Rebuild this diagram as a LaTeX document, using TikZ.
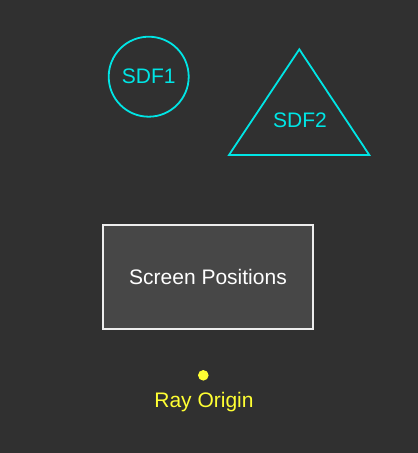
\documentclass[tikz,border=0pt]{standalone}
\usepackage{fontspec}
\setmainfont{Liberation Sans}
\definecolor{bgdark}{HTML}{303030}
\definecolor{boxgray}{HTML}{474747}
\definecolor{sdfcyan}{HTML}{00E5E5}
\definecolor{rayyellow}{HTML}{FFFF33}
\begin{document}
\begin{tikzpicture}[x=1pt,y=-1pt,font=\fontsize{21}{24}\selectfont,
		sdf/.style={draw=sdfcyan, line width=1.8pt, text=sdfcyan, inner sep=0pt}]
			% 背景
			\fill[bgdark] (0,0) rectangle (418,453);
			\useasboundingbox (0,0) rectangle (418,453);
			% 画 SDF1
			\node[sdf, circle, minimum size=80pt] (sdf1) at (148.7,76.7) {SDF1};
			% 画 SDF2
			\draw[draw=sdfcyan, line width=1.8pt, line join=miter] (299.3,49.3) -- (369.3,155) -- (229,155) -- cycle;
			\node[text=sdfcyan] (sdf2) at (300,120) {SDF2};
			% 画屏幕
			\node[draw=white!93!black, fill=boxgray, line width=1.8pt, minimum width=210pt, minimum height=104pt, text=white] (screen) at (208,277.3) {\raisebox{-2pt}{Screen Positions}};
			% 画射线原点
			\fill[rayyellow] (203.3,375.3) circle (5.3pt);
			\node[text=rayyellow] (origin) at (204,401.7) {Ray Origin};
		\end{tikzpicture}
\end{document}
